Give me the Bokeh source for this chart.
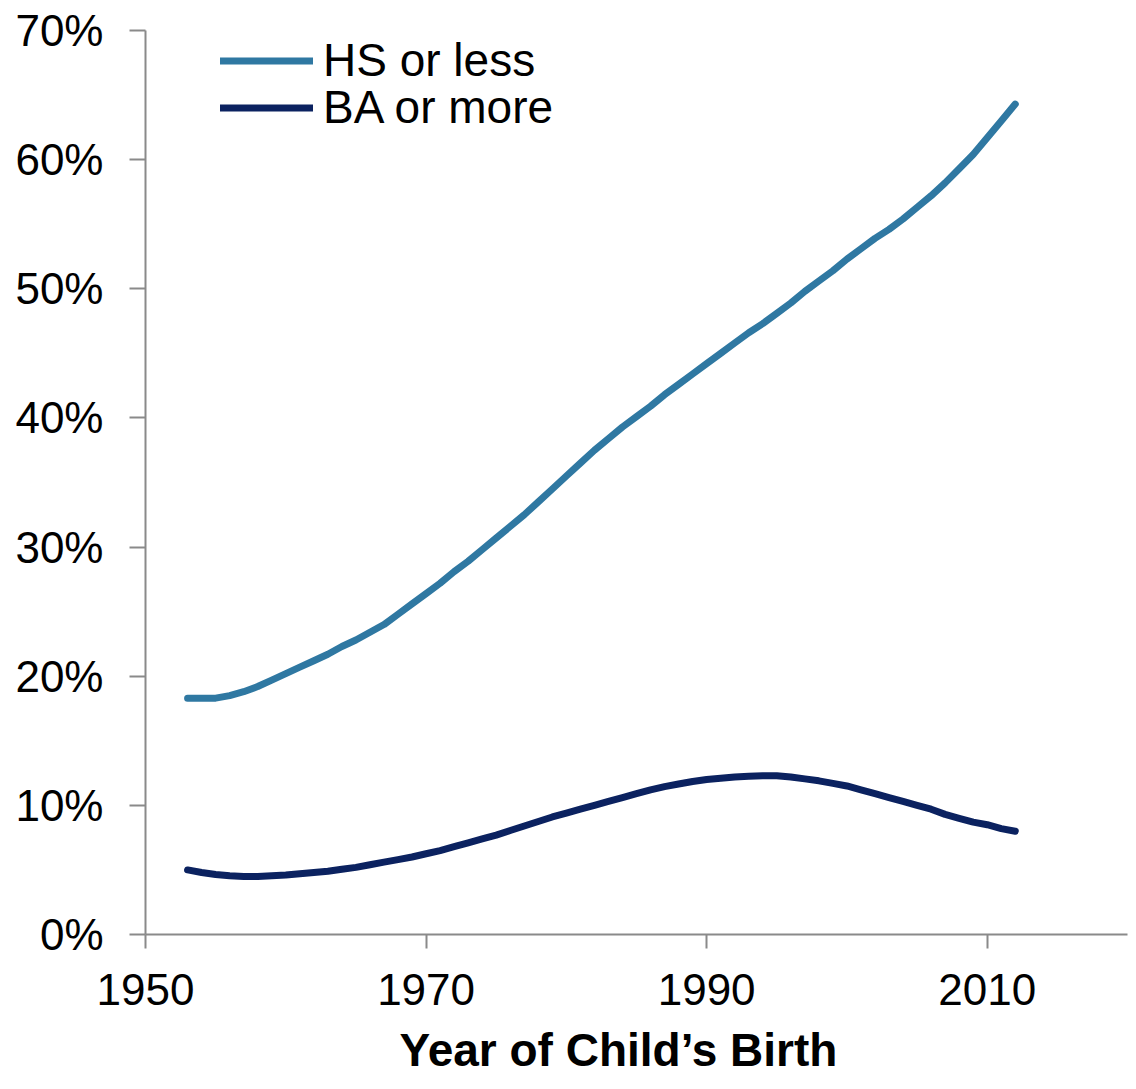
from bokeh.plotting import figure
from bokeh.models import FixedTicker, PrintfTickFormatter, Range1d, Legend, LegendItem, Title
from bokeh.embed import file_html
from bokeh.resources import INLINE

# Data (percent of births, by year of child's birth)
years = list(range(1953, 2013))
hs_or_less = [18.3, 18.3, 18.3, 18.5, 18.8, 19.2, 19.7, 20.2, 20.7, 21.2,   # 1953-1962
              21.7, 22.3, 22.8, 23.4, 24.0, 24.8, 25.6, 26.4, 27.2, 28.1,   # 1963-1972
              28.9, 29.8, 30.7, 31.6, 32.5, 33.5, 34.5, 35.5, 36.5, 37.5,   # 1973-1982
              38.4, 39.3, 40.1, 40.9, 41.8, 42.6, 43.4, 44.2, 45.0, 45.8,   # 1983-1992
              46.6, 47.3, 48.1, 48.9, 49.8, 50.6, 51.4, 52.3, 53.1, 53.9,   # 1993-2002
              54.6, 55.4, 56.3, 57.2, 58.2, 59.3, 60.4, 61.7, 63.0, 64.3]   # 2003-2012
ba_or_more = [5.0, 4.8, 4.65, 4.55, 4.5, 4.5, 4.55, 4.6, 4.7, 4.8,         # 1953-1962
              4.9, 5.05, 5.2, 5.4, 5.6, 5.8, 6.0, 6.25, 6.5, 6.8,          # 1963-1972
              7.1, 7.4, 7.7, 8.05, 8.4, 8.75, 9.1, 9.4, 9.7, 10.0,         # 1973-1982
              10.3, 10.6, 10.9, 11.2, 11.45, 11.65, 11.85, 12.0, 12.1, 12.2,  # 1983-1992
              12.25, 12.3, 12.3, 12.2, 12.05, 11.9, 11.7, 11.5, 11.2, 10.9,   # 1993-2002
              10.6, 10.3, 10.0, 9.7, 9.3, 9.0, 8.7, 8.5, 8.2, 8.0]            # 2003-2012

x_ticks = [1950, 1970, 1990, 2010]
y_ticks = [0, 10, 20, 30, 40, 50, 60, 70]
series_names = ["HS or less", "BA or more"]
series_colors = ["#2F78A2", "#0B2260"]
x_title = "Year of Child\u2019s Birth"

FONT = "Liberation Sans"

p = figure(width=1136, height=1089, output_backend="svg", toolbar_location=None,
           x_range=Range1d(1950, 2020), y_range=Range1d(0, 70),
           min_border_left=145, min_border_right=9, min_border_top=30,
           min_border_bottom=154)
p.outline_line_color = None
p.xgrid.visible = False
p.ygrid.visible = False
p.background_fill_color = "white"
p.border_fill_color = "white"

renderers = []
for vals, color in zip([hs_or_less, ba_or_more], series_colors):
    r = p.line(years, vals, line_color=color, line_width=7,
               line_cap="round", line_join="round")
    renderers.append(r)

for ax in (p.xaxis[0], p.yaxis[0]):
    ax.axis_line_color = "#8A8A8A"
    ax.axis_line_width = 2
    ax.major_tick_line_color = "#8A8A8A"
    ax.major_tick_line_width = 2
    ax.major_tick_in = 0
    ax.minor_tick_line_color = None
    ax.major_label_text_font = FONT
    ax.major_label_text_font_size = "44px"
    ax.major_label_text_color = "black"

p.xaxis.ticker = FixedTicker(ticks=x_ticks)
p.xaxis.major_tick_out = 14
p.xaxis.major_label_standoff = 25

p.yaxis.ticker = FixedTicker(ticks=y_ticks)
p.yaxis.formatter = PrintfTickFormatter(format="%d%%")
p.yaxis.major_tick_out = 16
p.yaxis.major_label_standoff = 26

# x-axis title, below the tick labels (slightly left of the frame centre, as in the reference)
p.add_layout(Title(text=x_title, align="left", offset=254, standoff=28,
                   text_font=FONT, text_font_style="bold", text_font_size="46px",
                   text_color="black"), "below")

# one legend per series so the rows can sit as close together as in the reference
for name, r, loc_y in zip(series_names, renderers, [847, 800]):
    lg = Legend(items=[LegendItem(label=name, renderers=[r])], location=(75, loc_y))
    lg.border_line_color = None
    lg.background_fill_alpha = 0
    lg.padding = 0
    lg.margin = 0
    lg.spacing = 0
    lg.glyph_width = 93
    lg.glyph_height = 45
    lg.label_height = 45
    lg.label_standoff = 10
    lg.label_text_font = FONT
    lg.label_text_font_size = "46px"
    lg.label_text_color = "black"
    p.add_layout(lg, "center")

open("out.html", "w").write(file_html(p, INLINE))
